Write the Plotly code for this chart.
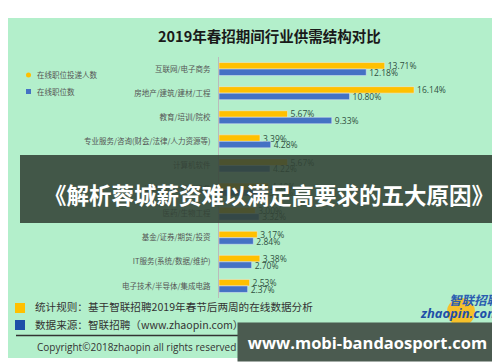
import plotly.graph_objects as go

categories = ["互联网/电子商务", "房地产/建筑/建材/工程", "教育/培训/院校",
              "专业服务/咨询(财会/法律/人力资源等)", "计算机软件", "通信/电信/网络设备",
              "医药/生物工程", "基金/证券/期货/投资", "IT服务(系统/数据/维护)",
              "电子技术/半导体/集成电路"]
applicants = [13.71, 16.14, 5.67, 3.39, 5.67, 4.10, 3.00, 3.17, 3.38, 2.53]
positions = [12.18, 10.80, 9.33, 4.28, 4.22, 3.90, 3.32, 2.84, 2.70, 2.37]
series_names = ["在线职位投递人数", "在线职位数"]
title_text = "2019年春招期间行业供需结构对比"
banner_text = "《解析蓉城薪资难以满足高要求的五大原因》"
note1 = "统计规则：基于智联招聘2019年春节后两周的在线数据分析"
note2 = "数据来源：智联招聘（www.zhaopin.com）"
copyright_text = "Copyright©2018zhaopin all rights reserved"
watermark = "www.mobi-bandaosport.com"

W, H = 500, 362
L, R, T, B = 211, 11, 49, 72
PW, PH = W - L - R, H - T - B

def px(x):
    return (x - L) / PW

def py(y):
    return (H - B - y) / PH

CJK = "Noto Sans CJK SC"
YELLOW = "#FFC000"
BLUE = "#4472C4"
GREEN = "#b3efcb"
LBL = "#2f4f3f"

fig = go.Figure()
fig.add_trace(go.Bar(
    y=categories, x=applicants, orientation="h", name=series_names[0],
    marker_color=YELLOW, text=[f"{v:.2f}%" for v in applicants],
    textposition="outside", constraintext="none", cliponaxis=False,
    textfont=dict(family="Open Sans, " + CJK, size=8.5, color=LBL)))
fig.add_trace(go.Bar(
    y=categories, x=positions, orientation="h", name=series_names[1],
    marker_color=BLUE, text=[f"{v:.2f}%" for v in positions],
    textposition="outside", constraintext="none", cliponaxis=False,
    textfont=dict(family="Open Sans, " + CJK, size=8.5, color=LBL)))

shapes = [
    dict(type="rect", xref="paper", yref="paper", x0=px(0), x1=px(494),
         y0=py(350), y1=py(10), fillcolor=GREEN, line_width=0, layer="below"),
    # legend markers
    dict(type="circle", xref="paper", yref="paper", x0=px(18), x1=px(23),
         y0=py(69.5), y1=py(64.5), fillcolor=YELLOW, line_width=0),
    dict(type="rect", xref="paper", yref="paper", x0=px(18), x1=px(23),
         y0=py(86), y1=py(81), fillcolor=BLUE, line_width=0),
    # footer squares
    dict(type="rect", xref="paper", yref="paper", x0=px(7), x1=px(17),
         y0=py(305), y1=py(295), fillcolor=YELLOW, line_width=0),
    dict(type="rect", xref="paper", yref="paper", x0=px(7), x1=px(17),
         y0=py(322), y1=py(312), fillcolor="#1f4fa8", line_width=0),
    dict(type="line", xref="paper", yref="paper", x0=px(8), x1=px(490),
         y0=py(327.5), y1=py(327.5), line=dict(color="#333333", width=1.5)),
    # logo circle
    dict(type="circle", xref="paper", yref="paper", x0=px(439), x1=px(467),
         y0=py(318), y1=py(290), fillcolor="#f6c02a", line_width=0),
    # banner
    dict(type="rect", xref="paper", yref="paper", x0=px(12), x1=px(489),
         y0=py(215), y1=py(147), fillcolor="rgba(50,66,54,0.88)", line_width=0,
         layer="above"),
]

ann = [
    dict(text=f"<b>{title_text}</b>", x=px(261), y=py(27), font=dict(family=CJK, size=14.5, color="#1a1a1a")),
    dict(text=series_names[0], x=px(27), y=py(67), xanchor="left", font=dict(family=CJK, size=7.5, color="#555555")),
    dict(text=series_names[1], x=px(27), y=py(83.5), xanchor="left", font=dict(family=CJK, size=7.5, color="#555555")),
    dict(text=note1, x=px(25), y=py(298), xanchor="left", font=dict(family=CJK, size=10.6, color="#333333")),
    dict(text=note2, x=px(25), y=py(316), xanchor="left", font=dict(family=CJK, size=10.6, color="#333333")),
    dict(text=copyright_text, x=px(27), y=py(339), xanchor="left", font=dict(family="Open Sans", size=10, color="#333333")),
    dict(text="<i><b>智联招聘</b></i>", x=px(496), y=py(291), xanchor="right", font=dict(family=CJK, size=12.5, color="#2a5db0")),
    dict(text="<i><b>zhaopin.com</b></i>", x=px(493), y=py(305), xanchor="right", font=dict(family="Open Sans", size=13, color="#1f4fa8")),
    dict(text=f"<b>{banner_text}</b>", x=px(261), y=py(186), font=dict(family=CJK, size=22.5, color="white")),
    dict(text=f"<b>{watermark}</b>", x=px(359.5), y=py(333.5), width=257, height=36, bgcolor="#4b5b50",
         borderpad=1, font=dict(family="Open Sans", size=16.5, color="white")),
]
for a in ann:
    a.update(xref="paper", yref="paper", showarrow=False)
    a.setdefault("xanchor", "center")
    a.setdefault("yanchor", "middle")

fig.update_layout(
    width=W, height=H, margin=dict(l=L, r=R, t=T, b=B),
    paper_bgcolor="white", plot_bgcolor="rgba(0,0,0,0)",
    barmode="group", bargap=0.46, bargroupgap=0,
    showlegend=False, shapes=shapes, annotations=ann,
    xaxis=dict(range=[0, 23], visible=False, fixedrange=True),
    yaxis=dict(autorange="reversed", showline=True, linecolor="#bbbbbb", linewidth=1,
               ticks="", ticklabelstandoff=6, showgrid=False,
               tickfont=dict(family=CJK, size=7.5, color="#555555")),
)

fig.write_html("out.html")
